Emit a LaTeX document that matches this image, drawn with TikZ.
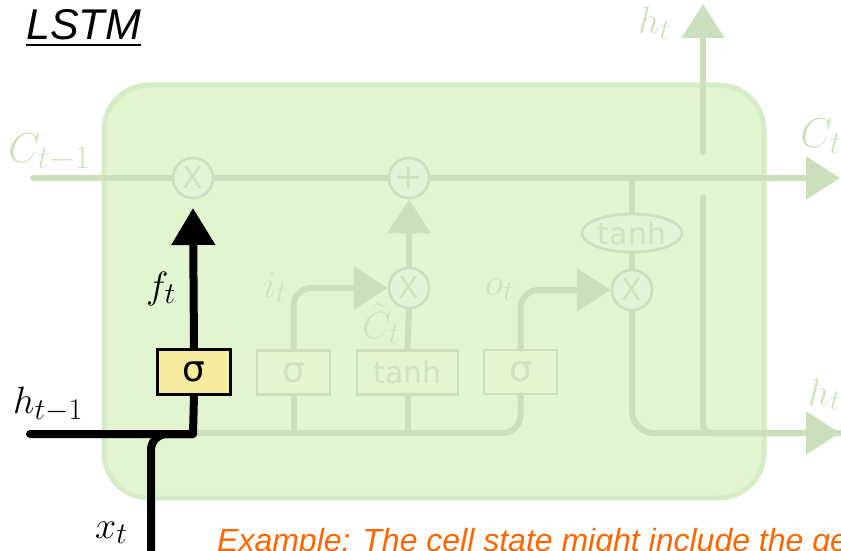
\RequirePackage{fix-cm}
\documentclass[tikz,border=0pt]{standalone}
\usepackage{fontspec}
\newfontfamily\djv{DejaVu Sans}
\newfontfamily\arial{Liberation Sans}
\usetikzlibrary{arrows.meta,shapes.geometric}
\DeclareMathSizes{38}{38}{30}{24}
\DeclareMathSizes{42}{42}{33}{26}
\definecolor{cellfill}{RGB}{224,245,208}
\definecolor{celldraw}{RGB}{214,236,199}
\definecolor{fcol}{RGB}{203,223,189}
\definecolor{flabel}{RGB}{206,226,192}
\definecolor{fcircfill}{RGB}{227,243,215}
\definecolor{fboxfill}{RGB}{229,245,208}
\definecolor{yellowbox}{RGB}{244,237,158}
\definecolor{orangetxt}{RGB}{255,102,0}
\begin{document}
\begin{tikzpicture}[x=1pt,y=-1pt,
  fline/.style={draw=fcol,line width=6pt,line cap=round,line join=round},
  farrow/.style={fline,-{Triangle[length=34pt,width=42pt]}},
  bline/.style={draw=black,line width=8pt,line cap=round,line join=round},
  opnode/.style={circle,draw=fcol,fill=fcircfill,line width=2.5pt,minimum size=40pt,inner sep=0pt,text=flabel,font=\djv\fontsize{30}{32}\selectfont},
  gatebox/.style={rectangle,draw=fcol,fill=fboxfill,line width=2.5pt,minimum width=73pt,minimum height=44pt,inner sep=0pt,text=flabel,font=\djv\fontsize{36}{38}\selectfont},
  lbl/.style={anchor=base west,inner sep=0pt,text=flabel,font=\fontsize{38}{40}\selectfont},
  blbl/.style={anchor=base west,inner sep=0pt,text=black,font=\fontsize{38}{40}\selectfont}]
\useasboundingbox (0,0) rectangle (841,551);
\clip (0,0) rectangle (841,551);

% cell
\draw[fill=cellfill,draw=celldraw,line width=5pt,rounded corners=45pt] (104,85) rectangle (764,498);

% coordinates
\coordinate (cin) at (33,178);
\coordinate (cout) at (840,178);
\coordinate (ctap) at (632,178);
\coordinate (hb) at (193,433);
\coordinate (hup0) at (703,152);
\coordinate (hup1) at (703,4);
\coordinate (vtop) at (703,197);
\coordinate (vbot) at (703,433);
\coordinate (hout) at (840,433);

% nodes (positions, drawn again on top below)
\node[opnode] (c1) at (193,178) {};
\node[opnode] (c2) at (409,178) {};
\node[opnode] (m2) at (409,288) {};
\node[opnode] (m3) at (632,290) {};
\node[ellipse,draw=fcol,fill=fcircfill,line width=2.5pt,minimum width=100pt,minimum height=38pt,inner sep=0pt] (th) at (632,233) {};
\node[gatebox] (b2) at (293.5,372.5) {σ};
\node[gatebox,minimum width=101pt,font=\djv\fontsize{30}{32}\selectfont] (b3) at (407.5,372.5) {tanh};
\node[gatebox] (b4) at (520.5,372) {σ};

% faded connectors
\draw[farrow] (cin) -- (cout);
\draw[fline] (ctap) -- (th.north);
\draw[fline] (th.south) -- (m3.north);
\draw[fline, rounded corners=18pt] (hb) -- (b4.south |- hb) -- (b4.south);
\draw[fline] (b2.south |- hb) -- (b2.south);
\draw[fline] (b3.south |- hb) -- (b3.south);
\draw[farrow, rounded corners=18pt] (b2.north) -- (b2.north |- m2.west) -- (m2.west);
\draw[fline] (b3.north) -- (m2.south);
\draw[farrow] (m2.north) -- (c2.south);
\draw[farrow, rounded corners=18pt] (b4.north) -- (b4.north |- m3.west) -- (m3.west);
\draw[farrow, rounded corners=22pt] (m3.south) -- (m3.south |- hout) -- (hout);
\draw[fline, rounded corners=8pt] (vtop) -- (vbot) -- (hout);
\draw[farrow] (hup0) -- (hup1);

% op nodes on top of lines
\node[opnode] (c1t) at (c1) {X};
\node[opnode,font=\djv\fontsize{34}{36}\selectfont] (c2t) at (c2) {+};
\node[opnode] (m2t) at (m2) {X};
\node[opnode] (m3t) at (m3) {X};
\node[ellipse,draw=fcol,fill=fcircfill,line width=2.5pt,minimum width=100pt,minimum height=38pt,inner sep=0pt,text=flabel,font=\djv\fontsize{30}{32}\selectfont] (tht) at (th) {tanh};

% faded labels
\node[lbl,font=\fontsize{42}{44}\selectfont] (lc0) at (8,162) {$C_{t-1}$};
\node[lbl,font=\fontsize{42}{44}\selectfont] (lc1) at (800,147) {$C_t$};
\node[lbl] (lit) at (263,297) {$i_t$};
\node[lbl] (lot) at (485,295) {$o_t$};
\node[lbl] (lct) at (362,338) {$\tilde{C}_t$};
\node[lbl] (lht1) at (638,34) {$h_t$};
\node[lbl] (lht2) at (808,405) {$h_t$};

% black part
\coordinate (hin) at (30,434);
\coordinate (jn) at (193,434);
\coordinate (xin) at (151,570);
\coordinate (ftip) at (193,208);
\node[rectangle,draw=black,fill=yellowbox,line width=2.5pt,minimum width=73pt,minimum height=45pt,inner sep=0pt] (b1) at (194,372) {};
\draw[bline] (hin) -- (jn) -- (b1.south);
\draw[bline, rounded corners=16pt] (xin) -- (xin |- jn) -- (jn);
\draw[bline,-{Triangle[length=37pt,width=42pt]}] (b1.north) -- (ftip);
\node[rectangle,draw=black,fill=yellowbox,line width=2.5pt,minimum width=73pt,minimum height=45pt,inner sep=0pt,font=\djv\fontsize{36}{38}\selectfont] (b1t) at (b1) {σ};

\node[blbl] (lft) at (146,298) {$f_t$};
\node[blbl] (lhm) at (13,413) {$h_{t-1}$};
\node[blbl] (lxt) at (95,538) {$x_t$};

% title
\node[anchor=base west,inner sep=0pt,font=\arial\itshape\fontsize{43}{45}\selectfont] (title) at (26,40) {LSTM};
\draw[line width=2.5pt] ([yshift=-5pt]title.base west) -- ([yshift=-5pt]title.base east);

% bottom text
\node[anchor=base west,inner sep=0pt,text=orangetxt,font=\arial\itshape\fontsize{32}{34}\selectfont] (ex) at (217,551) {Example: The cell state might include the ge};
\end{tikzpicture}
\end{document}
